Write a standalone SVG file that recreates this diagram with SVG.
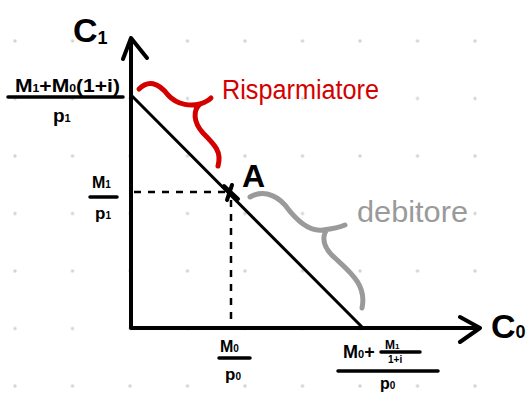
<svg xmlns="http://www.w3.org/2000/svg" width="529" height="396" viewBox="0 0 529 396">
<defs>
<pattern id="grid" x="-13.75" y="12.25" width="57.5" height="57.5" patternUnits="userSpaceOnUse"><circle cx="28.75" cy="28.75" r="1.7" fill="#d4d4d4"/></pattern>
<style>
.ax{stroke:#000;stroke-width:4;fill:none;stroke-linecap:round;stroke-linejoin:round}
.ln{stroke:#000;stroke-width:3;fill:none;stroke-linecap:round}
.dash{stroke:#000;stroke-width:2.5;fill:none;stroke-dasharray:7 7}
.fr{stroke:#000;stroke-width:3.5;stroke-linecap:round}
.t{font-family:"Liberation Sans",Arial,sans-serif;font-weight:bold;fill:#000}
.red{stroke:#d40000;stroke-width:5;fill:none;stroke-linecap:round;stroke-linejoin:round}
.gray{stroke:#9a9a9a;stroke-width:5;fill:none;stroke-linecap:round;stroke-linejoin:round}
</style>
</defs>
<rect width="529" height="396" fill="#fff"/>
<rect width="529" height="396" fill="url(#grid)"/>
<g id="connectors">
<path class="ax" d="M131,327 V38 M123,59 L131,38 L147,58"/>
<path class="ax" d="M131,328 H480 M460,317 L480,328 L460,342"/>
<path class="ln" d="M132,96 L362,327"/>
<path class="dash" d="M134,192 H226"/>
<path class="dash" d="M231,200 V326"/>
</g>
<g id="axis-c1"><text class="t" x="73" y="42" font-size="34" font-weight="normal">C<tspan font-size="18" dy="2">1</tspan></text></g>
<g id="axis-c0"><text class="t" x="491" y="338" font-size="34" font-weight="normal">C<tspan font-size="18" dy="0">0</tspan></text></g>
<g id="point-a">
<path class="ax" stroke-width="3.5" d="M224,186 L238,199 M232,185 L227,200"/>
<text class="t" x="242" y="187" font-size="32">A</text>
</g>
<g id="label-c1-max">
<text class="t" x="15" y="92" font-size="19" textLength="105" lengthAdjust="spacingAndGlyphs">M<tspan font-size="11">1</tspan>+M<tspan font-size="11">0</tspan>(1+i)</text>
<line class="fr" x1="8" y1="97" x2="123" y2="97"/>
<text class="t" x="53" y="122" font-size="19">p<tspan font-size="11">1</tspan></text>
</g>
<g id="label-m1p1">
<text class="t" x="92" y="188" font-size="16">M<tspan font-size="10">1</tspan></text>
<line class="fr" x1="90" y1="197" x2="117" y2="197"/>
<text class="t" x="95" y="219" font-size="17">p<tspan font-size="10">1</tspan></text>
</g>
<g id="label-m0p0">
<text class="t" x="220" y="352" font-size="16">M<tspan font-size="10">0</tspan></text>
<line class="fr" x1="219" y1="358" x2="250" y2="358"/>
<text class="t" x="225" y="380" font-size="17">p<tspan font-size="10">0</tspan></text>
</g>
<g id="label-c0-max">
<text class="t" x="343" y="358" font-size="18">M<tspan font-size="11">0</tspan>+</text>
<text class="t" x="385" y="349" font-size="12">M<tspan font-size="8">1</tspan></text>
<line class="fr" stroke-width="2.5" x1="381" y1="352" x2="420" y2="352"/>
<text class="t" x="388" y="363" font-size="10">1+i</text>
<line class="fr" x1="338" y1="371" x2="438" y2="371"/>
<text class="t" x="380" y="389" font-size="16">p<tspan font-size="10">0</tspan></text>
</g>
<g id="risparmiatore">
<path class="red" d="M139,89 C148,80 158,82 168,95 C178,106 192,106 200,104 C206,102 209,100 211,98 M200,104 C193,110 193,122 203,133 C215,145 222,152 218,166"/>
<text x="222" y="99" font-family="'Liberation Sans',Arial,sans-serif" font-size="27" fill="#d40000" textLength="157" lengthAdjust="spacingAndGlyphs">Risparmiatore</text>
</g>
<g id="debitore">
<path class="gray" d="M250,197 C262,190 275,194 285,205 C296,220 310,232 323,230 C331,229 338,228 345,225 M326,231 C330,226 314,240 335,258 C350,272 367,285 362,308"/>
<text x="357" y="222" font-family="'Liberation Sans',Arial,sans-serif" font-size="30" fill="#9a9a9a" textLength="111" lengthAdjust="spacingAndGlyphs">debitore</text>
</g>
</svg>
